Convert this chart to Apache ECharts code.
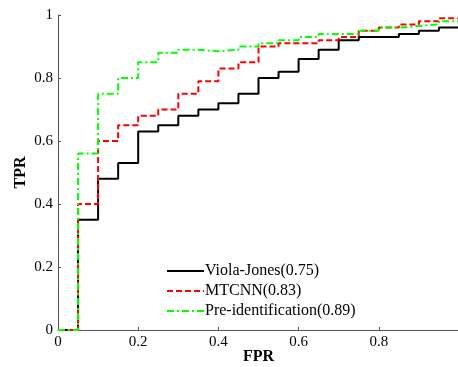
<!DOCTYPE html>
<html>
<head>
<meta charset="utf-8">
<script src="https://cdn.jsdelivr.net/npm/echarts@6/dist/echarts.min.js"></script>
<style>html,body{margin:0;padding:0;background:#fff}#c{width:458px;height:367px}</style>
</head>
<body>
<div id="c"></div>
<script>
// FPR positions of each step (left edge of each interval, plus the end point)
var fpr = [0, 0.05, 0.1, 0.15, 0.2, 0.25, 0.3, 0.35, 0.4, 0.45, 0.5, 0.55, 0.6, 0.65, 0.7, 0.75, 0.8, 0.85, 0.9, 0.95, 1.0];
var violaJones = [0, 0.35, 0.48, 0.53, 0.63, 0.65, 0.68, 0.70, 0.72, 0.75, 0.80, 0.82, 0.86, 0.89, 0.92, 0.93, 0.93, 0.94, 0.95, 0.96, 0.96];
var mtcnn = [0, 0.40, 0.60, 0.65, 0.68, 0.70, 0.75, 0.79, 0.83, 0.85, 0.90, 0.91, 0.91, 0.92, 0.93, 0.95, 0.96, 0.97, 0.98, 0.99, 0.99];
var preIdent = [0, 0.56, 0.75, 0.80, 0.85, 0.88, 0.89, 0.885, 0.89, 0.90, 0.91, 0.92, 0.93, 0.94, 0.94, 0.95, 0.96, 0.965, 0.97, 0.98, 0.98];
var seriesNames = ['Viola-Jones(0.75)', 'MTCNN(0.83)', 'Pre-identification(0.89)'];
var xTickLabels = ['0', '0.2', '0.4', '0.6', '0.8'];
var yTickLabels = ['0', '0.2', '0.4', '0.6', '0.8', '1'];

function pairs(ys) { return fpr.map(function (x, i) { return [x, ys[i]]; }); }

var font = 'Liberation Serif';
var chart = echarts.init(document.getElementById('c'), null, { renderer: 'canvas' });
chart.setOption({
  animation: false,
  backgroundColor: '#fff',
  grid: { left: 58, top: 15, width: 401, height: 315, containLabel: false, outerBoundsMode: 'none' },
  legend: {
    orient: 'vertical', left: 161, top: 258,
    itemWidth: 37, itemHeight: 14, itemGap: 4,
    itemStyle: { opacity: 0 },
    textStyle: { fontFamily: font, fontSize: 16, color: '#000', padding: [0, 0, 0, -4] },
    data: seriesNames
  },
  xAxis: {
    type: 'value', min: 0, max: 1, interval: 0.2,
    name: 'FPR', nameLocation: 'middle', nameGap: 19, nameMoveOverlap: false,
    nameTextStyle: { fontFamily: font, fontSize: 16, fontWeight: 'bold', color: '#000' },
    axisLine: { lineStyle: { color: '#555', width: 1 } },
    axisTick: { inside: true, length: 3, lineStyle: { color: '#555' } },
    axisLabel: { fontFamily: font, fontSize: 15, color: '#000', margin: 5,
      formatter: function (v) { var i = Math.round(v / 0.2); return i < xTickLabels.length ? xTickLabels[i] : ''; } },
    splitLine: { show: false }
  },
  yAxis: {
    type: 'value', min: 0, max: 1, interval: 0.2,
    name: 'TPR', nameLocation: 'middle', nameGap: 29, nameRotate: 90, nameMoveOverlap: false,
    nameTextStyle: { fontFamily: font, fontSize: 16, fontWeight: 'bold', color: '#000' },
    axisLine: { lineStyle: { color: '#555', width: 1 } },
    axisTick: { inside: true, length: 3, lineStyle: { color: '#555' } },
    axisLabel: { fontFamily: font, fontSize: 15, color: '#000', margin: 5,
      formatter: function (v) { return yTickLabels[Math.round(v / 0.2)]; } },
    splitLine: { show: false }
  },
  series: [
    { name: seriesNames[0], type: 'line', step: 'end', symbol: 'none', data: pairs(violaJones),
      lineStyle: { color: '#000', width: 2, type: 'solid' }, itemStyle: { color: '#000' }, z: 3 },
    { name: seriesNames[1], type: 'line', step: 'end', symbol: 'none', data: pairs(mtcnn),
      lineStyle: { color: '#ff0000', width: 2, type: [6, 3] }, itemStyle: { color: '#ff0000' }, z: 4 },
    { name: seriesNames[2], type: 'line', step: 'end', symbol: 'none', data: pairs(preIdent),
      lineStyle: { color: '#00ff00', width: 2, type: [7, 3, 2, 3] }, itemStyle: { color: '#00ff00' }, z: 5 }
  ]
});
</script>
</body>
</html>
